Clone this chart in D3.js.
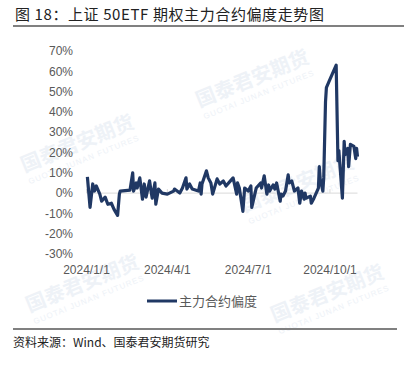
<!DOCTYPE html>
<html>
<head>
<meta charset="utf-8">
<script src="https://cdn.jsdelivr.net/npm/d3@7"></script>
<style>
  body { margin: 0; background: #fff; }
  text { font-family: "Liberation Sans", Arial, sans-serif; }
  .cjk { font-family: "Noto Sans CJK SC", sans-serif; }
</style>
</head>
<body>
<div id="chart"></div>
<script>
// 主力合约偏度 (%)
const dates = [
  "2024-01-02","2024-01-03","2024-01-05","2024-01-08","2024-01-10","2024-01-12","2024-01-16","2024-01-18",
  "2024-01-22","2024-01-25","2024-01-29","2024-02-01","2024-02-05","2024-02-07","2024-02-08","2024-02-19",
  "2024-02-22","2024-02-23","2024-02-26","2024-02-27","2024-03-01","2024-03-04","2024-03-06","2024-03-08",
  "2024-03-12","2024-03-14","2024-03-15","2024-03-18","2024-03-19","2024-03-22","2024-03-26","2024-04-01",
  "2024-04-08","2024-04-09","2024-04-15","2024-04-18","2024-04-22","2024-04-23","2024-04-26","2024-04-29",
  "2024-05-06","2024-05-08","2024-05-09","2024-05-10","2024-05-15","2024-05-17","2024-05-20","2024-05-22",
  "2024-05-27","2024-05-30","2024-06-03","2024-06-06","2024-06-11","2024-06-14","2024-06-18","2024-06-19",
  "2024-06-21","2024-06-25","2024-06-27","2024-07-01","2024-07-04","2024-07-05","2024-07-10","2024-07-15",
  "2024-07-16","2024-07-19","2024-07-22","2024-07-24","2024-07-25","2024-07-29","2024-07-31","2024-08-02",
  "2024-08-06","2024-08-07","2024-08-09","2024-08-12","2024-08-15","2024-08-16","2024-08-19","2024-08-22",
  "2024-08-26","2024-08-28","2024-08-30","2024-09-02","2024-09-03","2024-09-04","2024-09-09","2024-09-10",
  "2024-09-13","2024-09-18","2024-09-19","2024-09-20","2024-09-23","2024-09-24","2024-09-26","2024-09-27",
  "2024-09-30","2024-10-08","2024-10-10","2024-10-11","2024-10-15","2024-10-17","2024-10-18","2024-10-21",
  "2024-10-22","2024-10-24","2024-10-28","2024-10-30","2024-10-31","2024-11-01"
];
const skew = [
  8, 3, -7, 4.5, 1, 3.5, -0.5, -4,
  -2, -5.5, -5, -8, -11, -0.5, 1, 1.5,
  10, 1, 5, 2.5, 7.5, -3, 4.5, -2,
  6, 0, -2.5, 5, -5.5, 2, 0, -0.5,
  1, 2, 0, 2.5, 7.5, 2, 4.5, 2,
  1, 5, -0.5, 4.5, 11, 7.5, 5, -0.5,
  7, 4.5, 6, 3.5, 6, 7.5, -0.5, 5,
  2.5, -9, 2.5, 1, 3.5, -7, 2.5, 5,
  2.5, 8.5, -0.5, 4, 1, 4, 2, 5,
  -4, -0.5, -1.5, 1, 9, 5, 6, 1,
  2.5, -5, 1, -3, 0, -2.5, -1.5, -5,
  -2.5, 2.5, 13, 7, 1, 7.5, 45, 52,
  55, 63, 16, 21, -2.5, 25.5, 19, 22,
  13, 24, 23, 17, 22, 18
];
const yTicks = [70, 60, 50, 40, 30, 20, 10, 0, -10, -20, -30];
const xTicks = ["2024-01-01", "2024-04-01", "2024-07-01", "2024-10-01"];
const xTickLabels = ["2024/1/1", "2024/4/1", "2024/7/1", "2024/10/1"];
const seriesName = "主力合约偏度";

const width = 415, height = 365;
const parse = d3.timeParse("%Y-%m-%d");
const data = dates.map((d, i) => ({ date: parse(d), value: skew[i] }));

const svg = d3.select("#chart").append("svg")
  .attr("width", width)
  .attr("height", height);

svg.append("rect").attr("width", width).attr("height", height).attr("fill", "#fff");

// faint company watermarks, kept inside the frame
const marks = [[80, 150], [255, 85], [300, 190], [85, 290], [330, 300]];
marks.forEach(([mx, my]) => {
  const g = svg.append("g")
    .attr("transform", `translate(${mx},${my}) rotate(-22)`)
    .attr("fill", "#eef2f7");
  g.append("text").attr("class", "cjk")
    .attr("text-anchor", "middle")
    .style("font-size", "20px").style("font-weight", "bold")
    .text("国泰君安期货");
  g.append("text")
    .attr("text-anchor", "middle").attr("y", 13)
    .style("font-size", "8px").style("letter-spacing", "1px")
    .text("GUOTAI JUNAN FUTURES");
});

// title
svg.append("text").attr("class", "cjk")
  .attr("x", 15).attr("y", 20)
  .style("font-size", "15px")
  .style("letter-spacing", "0.6px")
  .attr("fill", "#222")
  .text("图 18：上证 50ETF 期权主力合约偏度走势图");
svg.append("line")
  .attr("x1", 13).attr("x2", 404).attr("y1", 26).attr("y2", 26)
  .attr("stroke", "#808080").attr("stroke-width", 2);

const x = d3.scaleTime()
  .domain([parse("2024-01-01"), parse("2024-11-01")])
  .range([86.5, 357.5]);
const y = d3.scaleLinear()
  .domain([-30, 70])
  .range([254, 51]);

// y axis labels
svg.append("g").selectAll("text")
  .data(yTicks)
  .enter().append("text")
  .attr("x", 73)
  .attr("y", d => y(d))
  .attr("dy", "0.35em")
  .attr("text-anchor", "end")
  .style("font-size", "12px")
  .attr("fill", "#595959")
  .text(d => d + "%");

// zero axis line with ticks
svg.append("line")
  .attr("x1", x.range()[0]).attr("x2", x.range()[1])
  .attr("y1", y(0)).attr("y2", y(0))
  .attr("stroke", "#d9d9d9").attr("stroke-width", 1);
svg.append("g").selectAll("line")
  .data(xTicks)
  .enter().append("line")
  .attr("x1", d => x(parse(d))).attr("x2", d => x(parse(d)))
  .attr("y1", y(0) - 4).attr("y2", y(0))
  .attr("stroke", "#d9d9d9");

// x labels
svg.append("g").selectAll("text")
  .data(xTicks)
  .enter().append("text")
  .attr("x", d => x(parse(d)))
  .attr("y", 274)
  .attr("text-anchor", "middle")
  .style("font-size", "12px")
  .attr("fill", "#595959")
  .text((d, i) => xTickLabels[i]);

// series
const line = d3.line()
  .x(d => x(d.date))
  .y(d => y(d.value));
svg.append("path")
  .datum(data)
  .attr("d", line)
  .attr("fill", "none")
  .attr("stroke", "#203864")
  .attr("stroke-width", 3.2)
  .attr("stroke-linejoin", "round");

// legend
svg.append("line")
  .attr("x1", 147).attr("x2", 177).attr("y1", 301).attr("y2", 301)
  .attr("stroke", "#203864").attr("stroke-width", 3);
svg.append("text").attr("class", "cjk")
  .attr("x", 179).attr("y", 301)
  .attr("dy", "0.35em")
  .style("font-size", "13px")
  .attr("fill", "#595959")
  .text(seriesName);

// footer
svg.append("line")
  .attr("x1", 13).attr("x2", 397).attr("y1", 329).attr("y2", 329)
  .attr("stroke", "#808080").attr("stroke-width", 2);
svg.append("text").attr("class", "cjk")
  .attr("x", 13).attr("y", 347)
  .style("font-size", "12px")
  .attr("fill", "#222")
  .text("资料来源：Wind、国泰君安期货研究");
</script>
</body>
</html>
